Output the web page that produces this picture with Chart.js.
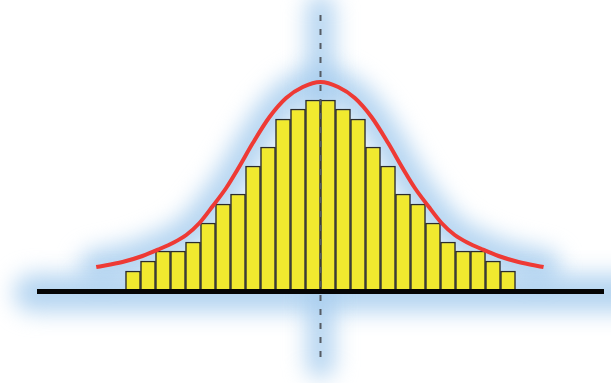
<!DOCTYPE html>
<html>
<head>
<meta charset="utf-8">
<title>Histogram with normal curve</title>
<script src="https://cdn.jsdelivr.net/npm/chart.js@4"></script>
<style>
    html, body { margin: 0; padding: 0; background: #fff; }
    #wrap { width: 611px; height: 383px; position: relative; }
</style>
</head>
<body>
<div id="wrap"><canvas id="chart"></canvas></div>
<script>
// bar centres (one unit = one bar width), centre of the distribution at 0
const barX = [-12.5, -11.5, -10.5, -9.5, -8.5, -7.5, -6.5, -5.5, -4.5, -3.5, -2.5, -1.5, -0.5,
              0.5, 1.5, 2.5, 3.5, 4.5, 5.5, 6.5, 7.5, 8.5, 9.5, 10.5, 11.5, 12.5];
const barHeights = [19, 29, 39, 39, 48, 67, 86, 96, 124, 143, 171, 181, 190,
                    190, 181, 171, 143, 124, 96, 86, 67, 48, 39, 39, 29, 19];

// red curve
const curveX = [-14.95, -13.2, -11.87, -10.73, -9.85, -8.95, -8.07, -7.18, -6.29, -5.51, -4.51, -3.4, -2.29, -1.18, 0,
                1.18, 2.29, 3.4, 4.51, 5.51, 6.29, 7.18, 8.07, 8.95, 9.85, 10.73, 11.87, 13.2, 14.87];
const curveY = [23, 28, 34, 41, 47, 55, 67, 84, 102, 121, 147, 173, 192, 203, 208,
                203, 192, 173, 147, 121, 102, 84, 67, 55, 47, 41, 34, 28, 23];

const xRange = [-18.9, 18.9];
const yRange = [-70, 275];

const glowColor = 'rgba(168, 206, 238, 0.85)';

function tracePoints(ctx, pts) {
    ctx.beginPath();
    pts.forEach((p, i) => {
        if (i === 0) ctx.moveTo(p.x, p.y);
        else ctx.lineTo(p.x, p.y);
    });
}

// blue glow behind curve, baseline and centre line
const glowPlugin = {
    id: 'glow',
    beforeDatasetsDraw(chart) {
        const ctx = chart.ctx;
        const area = chart.chartArea;
        const x = chart.scales.x;
        const y = chart.scales.y;
        const y0 = y.getPixelForValue(0);
        const xc = x.getPixelForValue(0);
        const curve = chart.getDatasetMeta(1).data;

        ctx.save();
        ctx.filter = 'blur(11px)';
        ctx.strokeStyle = glowColor;
        ctx.lineCap = 'round';
        ctx.lineJoin = 'round';

        ctx.lineWidth = 34;
        tracePoints(ctx, curve);
        ctx.stroke();

        ctx.lineWidth = 38;
        ctx.beginPath();
        ctx.moveTo(area.left - 4, y0 + 3);
        ctx.lineTo(chart.width + 20, y0 + 3);
        ctx.stroke();

        ctx.lineWidth = 28;
        ctx.beginPath();
        ctx.moveTo(xc, area.top - 6);
        ctx.lineTo(xc, area.bottom + 4);
        ctx.stroke();
        ctx.restore();
    },
    afterDatasetsDraw(chart) {
        const ctx = chart.ctx;
        const area = chart.chartArea;
        const y0 = chart.scales.y.getPixelForValue(0);
        const xc = chart.scales.x.getPixelForValue(0);

        ctx.save();
        // centre line
        ctx.strokeStyle = '#555b63';
        ctx.lineWidth = 2;
        ctx.setLineDash([6, 8]);
        ctx.beginPath();
        ctx.moveTo(xc, area.top);
        ctx.lineTo(xc, area.bottom);
        ctx.stroke();

        // baseline
        ctx.setLineDash([]);
        ctx.strokeStyle = '#050505';
        ctx.lineWidth = 5;
        ctx.beginPath();
        ctx.moveTo(area.left, y0 + 1.5);
        ctx.lineTo(area.right, y0 + 1.5);
        ctx.stroke();
        ctx.restore();
    }
};

new Chart(document.getElementById('chart'), {
    type: 'bar',
    data: {
        datasets: [
            {
                type: 'bar',
                data: barX.map((v, i) => ({ x: v, y: barHeights[i] })),
                backgroundColor: '#f1e92f',
                borderColor: '#2b2b2b',
                borderWidth: 1.5,
                barPercentage: 1,
                categoryPercentage: 1,
                order: 2
            },
            {
                type: 'line',
                data: curveX.map((v, i) => ({ x: v, y: curveY[i] })),
                borderColor: '#ee3a35',
                borderWidth: 4,
                pointRadius: 0,
                fill: false,
                cubicInterpolationMode: 'monotone',
                order: 1
            }
        ]
    },
    options: {
        responsive: true,
        maintainAspectRatio: false,
        animation: false,
        layout: {
            padding: { left: 37, right: 7, top: 15, bottom: 23 }
        },
        plugins: {
            legend: { display: false },
            tooltip: { enabled: false }
        },
        scales: {
            x: { type: 'linear', min: xRange[0], max: xRange[1], offset: false, display: false },
            y: { min: yRange[0], max: yRange[1], display: false }
        }
    },
    plugins: [glowPlugin]
});
</script>
</body>
</html>
